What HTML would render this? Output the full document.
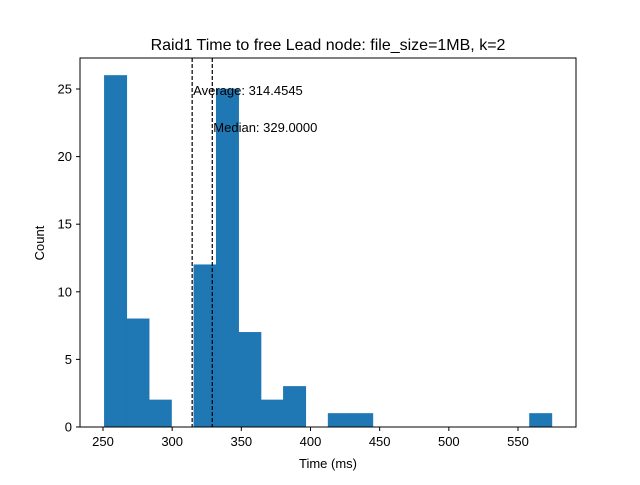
<!DOCTYPE html>
<html><head><meta charset="utf-8"><style>
body{margin:0;background:#fff;}
svg text{font-family:"Liberation Sans","DejaVu Sans",sans-serif;}
</style></head><body>
<svg id="chart" width="640" height="480" xmlns="http://www.w3.org/2000/svg">
<rect width="640" height="480" fill="#fff"/>
<text x="328" y="50" text-anchor="middle" font-size="16">Raid1 Time to free Lead node: file_size=1MB, k=2</text>
<g id="bars"></g>
<g id="xticks"></g>
<g id="yticks"></g>
<g id="lines"></g>
<rect x="80" y="58" width="496" height="369" fill="none" stroke="#000" stroke-width="1"/>
<text x="328" y="468" text-anchor="middle" font-size="13">Time (ms)</text>
<text x="44" y="243" text-anchor="middle" font-size="13" transform="rotate(-90 44 243)">Count</text>
</svg>
<script>
const binStart = 251;
const binEnd = 574.5;
const counts = [26,8,2,0,12,25,7,2,3,0,1,1,0,0,0,0,0,0,0,1];
const xTicks = [250,300,350,400,450,500,550];
const yTicks = [0,5,10,15,20,25];
const average = 314.4545;
const median = 329.0;
const NS="http://www.w3.org/2000/svg";
function X(v){return 103+(v-250)*(415/300);}
function Y(v){return 427-v*(338/25);}
function mk(t,a){const e=document.createElementNS(NS,t);for(const k in a)e.setAttribute(k,a[k]);return e;}
const bw=(binEnd-binStart)/counts.length;
const bars=document.getElementById('bars');
counts.forEach((c,i)=>{if(!c)return;
 const x0=X(binStart+i*bw),x1=X(binStart+(i+1)*bw);
 const r=mk('rect',{x:x0,y:Y(c),width:x1-x0,height:Y(0)-Y(c),fill:'#1f77b4',stroke:'#1f77b4','stroke-width':0.6});
 
 
 bars.appendChild(r);});
const xt=document.getElementById('xticks');
xTicks.forEach(v=>{const x=X(v);
 const l=mk('line',{x1:x,x2:x,y1:427,y2:431,stroke:'#000'});
 
 
 xt.appendChild(l);
 const t=mk('text',{x:x,y:446,'text-anchor':'middle','font-size':'13'});t.textContent=v;
 
 
 xt.appendChild(t);});
const yt=document.getElementById('yticks');
yTicks.forEach(v=>{const y=Y(v);
 const l=mk('line',{x1:76,x2:80,y1:y,y2:y,stroke:'#000'});
 
 
 yt.appendChild(l);
 const t=mk('text',{x:72,y:y+4.5,'text-anchor':'end','font-size':'13'});t.textContent=v;
 
 
 yt.appendChild(t);});
const lg=document.getElementById('lines');
[[average,'Average: '+average.toFixed(4),95,'average'],[median,'Median: '+median.toFixed(4),132,'median']].forEach(([v,s,ty,n])=>{
 const x=X(v);
 const l=mk('line',{x1:x,x2:x,y1:58,y2:427,stroke:'#000','stroke-dasharray':'4,2','stroke-width':1.2});
 
 
 lg.appendChild(l);
 const t=mk('text',{x:x+1,y:ty,'font-size':'13'});t.textContent=s;
 
 
 lg.appendChild(t);});
</script>
</body></html>
